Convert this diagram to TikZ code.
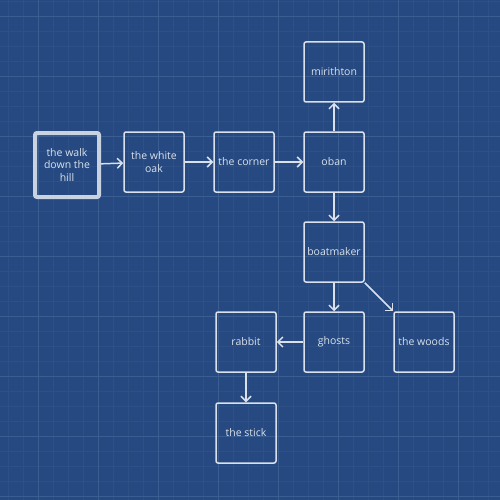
\documentclass[tikz,border=0pt]{standalone}
\usepackage{fontspec}
\setmainfont{Open Sans}
\usetikzlibrary{arrows.meta}
\definecolor{PaperClr}{RGB}{37,73,128}
\definecolor{MinorClr}{RGB}{45,81,135}
\definecolor{MajorClr}{RGB}{58,94,146}
\definecolor{InkClr}{RGB}{218,225,235}
\definecolor{StartClr}{RGB}{200,210,224}

\begin{document}
\begin{tikzpicture}[x=1pt,y=-1pt,
  place/.style={draw=InkClr,line width=1.5pt,rounded corners=2pt,minimum size=60pt,
    inner sep=0pt,text=InkClr,align=center,font=\fontsize{10.5}{12.5}\selectfont},
  start/.style={place,draw=StartClr,line width=4pt,minimum size=64pt},
  link/.style={draw=InkClr,line width=1.5pt,-{Straight Barb[length=5pt,width=10pt]}}]

\fill[PaperClr] (0,0) rectangle (500,500);
\useasboundingbox (0,0) rectangle (500,500);

% grid
\foreach \x in {8,23,...,500} \draw[MinorClr,line width=0.6pt] (\x,0) -- (\x,500);
\foreach \y in {1,16,...,500} \draw[MinorClr,line width=0.6pt] (0,\y) -- (500,\y);
\foreach \x in {38,98,...,500} \draw[MajorClr,line width=0.9pt] (\x,0) -- (\x,500);
\foreach \y in {16,76,...,500} \draw[MajorClr,line width=0.9pt] (0,\y) -- (500,\y);

\node[start] (walk) at (67,165) {the walk\\down the\\hill};
\node[place] (oak) at (154,162) {the white\\oak};
\node[place] (corner) at (244,162) {the corner};
\node[place] (oban) at (334,162) {oban};
\node[place] (mirithton) at (334,72) {mirithton};
\node[place] (boatmaker) at (334,252) {boatmaker};
\node[place] (ghosts) at (334,342) {ghosts};
\node[place] (woods) at (424,342) {the woods};
\node[place] (rabbit) at (246,342) {rabbit};
\node[place] (stick) at (246,433) {the stick};

\draw[link] (walk) -- (oak);
\draw[link] (oak) -- (corner);
\draw[link] (corner) -- (oban);
\draw[link] (oban) -- (mirithton);
\draw[link] (oban) -- (boatmaker);
\draw[link] (boatmaker) -- (ghosts);
\draw[link] (boatmaker.south east) -- (woods.north west);
\draw[link] (ghosts) -- (rabbit);
\draw[link] (rabbit) -- (stick);

\end{tikzpicture}
\end{document}
